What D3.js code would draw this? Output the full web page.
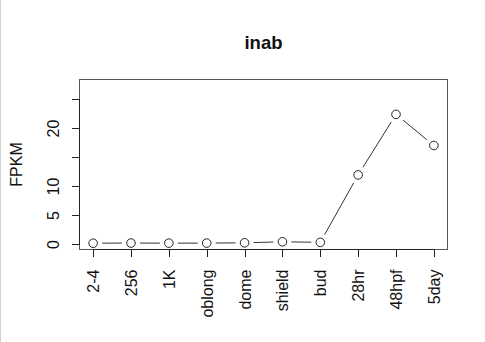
<!DOCTYPE html>
<html>
<head>
<meta charset="utf-8">
<script src="https://cdn.jsdelivr.net/npm/d3@7"></script>
<style>
  body { margin: 0; background: #fff; }
  svg { display: block; font-family: "Liberation Sans", Arial, sans-serif; }
</style>
</head>
<body>
<svg width="485" height="342"></svg>
<script>
// stages along x, FPKM values
const stages = ["2-4", "256", "1K", "oblong", "dome", "shield", "bud", "28hr", "48hpf", "5day"];
const fpkm = [0.05, 0.08, 0.06, 0.07, 0.12, 0.3, 0.2, 11.9, 22.4, 17.0];
const yTicks = [0, 5, 10, 15, 20, 25];
const yLabels = ["0", "5", "10", "", "20", ""];

const svg = d3.select("svg");
const box = { left: 79.5, right: 447.5, top: 79.5, bottom: 249.5 };

// R style: 4% padding each side
const x = d3.scaleLinear().domain([0.64, 10.36]).range([box.left, box.right]);
const y = d3.scaleLinear().domain([-1.04, 28.45]).range([box.bottom, box.top]);

// faint border at the left edge of the image
svg.append("line")
  .attr("x1", 0.5).attr("x2", 0.5).attr("y1", 0).attr("y2", 342)
  .attr("stroke", "#d0d0d0");

// plot frame
svg.append("rect")
  .attr("x", box.left).attr("y", box.top)
  .attr("width", box.right - box.left).attr("height", box.bottom - box.top)
  .attr("fill", "none").attr("stroke", "#555").attr("stroke-width", 1);

// y axis
const yAxis = svg.append("g").attr("transform", `translate(${box.left},0)`);
yAxis.append("line")
  .attr("x1", 0).attr("x2", 0)
  .attr("y1", Math.round(y(0)) + 0.5).attr("y2", Math.round(y(25)) + 0.5)
  .attr("stroke", "#222");
yTicks.forEach((t, i) => {
  const yy = Math.round(y(t)) + 0.5;
  yAxis.append("line").attr("x1", 0).attr("x2", -7.5).attr("y1", yy).attr("y2", yy).attr("stroke", "#222");
  if (yLabels[i]) {
    yAxis.append("text")
      .attr("transform", `translate(-21,${yy}) rotate(-90)`)
      .attr("text-anchor", "middle")
      .attr("font-size", 16)
      .attr("fill", "#111")
      .text(yLabels[i]);
  }
});

// x axis
const xAxis = svg.append("g").attr("transform", `translate(0,${box.bottom})`);
xAxis.append("line")
  .attr("x1", Math.round(x(1)) + 0.5).attr("x2", Math.round(x(10)) + 0.5)
  .attr("y1", 0).attr("y2", 0).attr("stroke", "#222");
stages.forEach((s, i) => {
  const xx = Math.round(x(i + 1)) + 0.5;
  xAxis.append("line").attr("x1", xx).attr("x2", xx).attr("y1", 0).attr("y2", 7.5).attr("stroke", "#222");
  xAxis.append("text")
    .attr("transform", `translate(${xx},20) rotate(-90)`)
    .attr("text-anchor", "end")
    .attr("dy", "0.35em")
    .attr("font-size", 16)
    .attr("fill", "#111")
    .text(s);
});

// type = "b": segments with gaps around points
const pts = fpkm.map((v, i) => [x(i + 1), y(v)]);
const gap = 9;
for (let i = 0; i < pts.length - 1; i++) {
  const [x1, y1] = pts[i], [x2, y2] = pts[i + 1];
  const len = Math.hypot(x2 - x1, y2 - y1);
  if (len <= 2 * gap) continue;
  const ux = (x2 - x1) / len, uy = (y2 - y1) / len;
  svg.append("line")
    .attr("x1", x1 + ux * gap).attr("y1", y1 + uy * gap)
    .attr("x2", x2 - ux * gap).attr("y2", y2 - uy * gap)
    .attr("stroke", "#333").attr("stroke-width", 1);
}

svg.selectAll("circle.pt")
  .data(pts)
  .join("circle")
  .attr("class", "pt")
  .attr("cx", d => d[0]).attr("cy", d => d[1])
  .attr("r", 4.3)
  .attr("fill", "none").attr("stroke", "#222").attr("stroke-width", 1);

// titles
svg.append("text")
  .attr("x", (box.left + box.right) / 2).attr("y", 48.5)
  .attr("text-anchor", "middle")
  .attr("font-size", 18.5).attr("font-weight", "bold")
  .attr("fill", "#111")
  .text("inab");

svg.append("text")
  .attr("transform", `translate(22,${(box.top + box.bottom) / 2}) rotate(-90)`)
  .attr("text-anchor", "middle")
  .attr("font-size", 16)
  .attr("fill", "#111")
  .text("FPKM");
</script>
</body>
</html>
